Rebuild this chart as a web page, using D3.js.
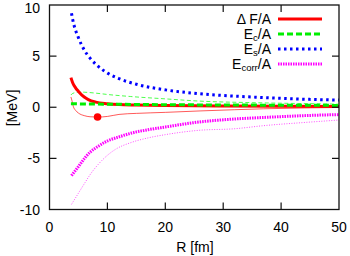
<!DOCTYPE html>
<html><head><meta charset="utf-8">
<script src="https://cdn.jsdelivr.net/npm/d3@7"></script>
<style>body{margin:0;background:#fff}svg{display:block}text{font-family:"Liberation Sans",Arial,sans-serif}</style>
</head><body><svg id="c" width="350" height="256"></svg>
<script>
// ---- data ----
const xTicks = [0,10,20,30,40,50];
const yTicks = [-10,-5,0,5,10];
const seriesNames = ["\u0394 F/A","Ec/A","Es/A","Ecorr/A"];

const rF   = [3.7,4.0,4.5,5.0,6.0,6.7,8.0,10,12,15,20,25,30,40,50];
const dF   = [2.9,2.4,1.9,1.55,1.0,0.75,0.5,0.35,0.27,0.22,0.17,0.14,0.12,0.09,0.07];
const rEc  = [3.7,5,10,20,30,40,50];
const ec   = [0.34,0.33,0.3,0.25,0.22,0.2,0.18];
const rEs  = [3.8,4,5,6,7,8,10,12,15,20,25,30,35,40,45,50];
const es   = [9.2,8.6,6.8,5.6,4.8,4.2,3.35,2.8,2.25,1.7,1.37,1.15,1.0,0.87,0.77,0.7];
const rEcorr = [3.8,5,6.1,7,8.4,10,12,14.2,17,20,25.7,32,37,46,50];
const ecorr  = [-6.68,-5.8,-4.96,-4.4,-3.82,-3.3,-2.9,-2.52,-2.2,-1.93,-1.45,-1.15,-1.0,-0.78,-0.72];

// thin curves
const rF2  = [3.7,3.9,4.1,4.5,5,6,7,8.3,10,12,15,20,26,32,37,44,50];
const dF2  = [1.0,0.6,0.1,-0.3,-0.57,-0.82,-0.93,-0.96,-0.9,-0.7,-0.6,-0.5,-0.36,-0.24,-0.15,-0.07,-0.02];
const rEc2 = [3.7,4,5,6,8,10,14,20,26,35,46,50];
const ec2  = [1.2,1.35,1.48,1.47,1.38,1.25,1.05,0.82,0.6,0.45,0.34,0.3];
const rEcorr2 = [3.8,5,6.1,7,8.4,10,11.3,14.2,17,20,25.7,32,37,45,50];
const ecorr2  = [-9.5,-8.4,-7.4,-6.6,-5.6,-4.7,-4.15,-3.43,-3.0,-2.68,-2.26,-2.1,-1.8,-1.45,-1.25];
const minPoint = [8.3,-0.96];

// ---- drawing ----
const svg = d3.select("#c");
const L=49.5,R=339,T=5,B=209.5;
const x = d3.scaleLinear().domain([0,50]).range([L,R]);
const y = d3.scaleLinear().domain([-10,10]).range([B,T]);
const line = d3.line().x(d=>x(d[0])).y(d=>y(d[1])).curve(d3.curveMonotoneX);
const zip=(a,b)=>a.map((v,i)=>[v,b[i]]);

const g = svg.append("g");
svg.append("defs").append("clipPath").attr("id","pc").append("rect")
  .attr("x",L).attr("y",T).attr("width",R-L).attr("height",B-T);
const plot = g.append("g").attr("clip-path","url(#pc)");

function path(data, color, w, dash, op){
  plot.append("path").attr("d",line(data)).attr("fill","none").attr("stroke",color)
    .attr("stroke-width",w).attr("stroke-dasharray",dash||null).attr("opacity",op||1);
}
// thin
path(zip(rEcorr2,ecorr2),"#ff00ff",1,"1,1.5",0.7);
path(zip(rF2,dF2),"#ff0000",1,null,0.65);
path(zip(rEc2,ec2),"#00ff00",1,"4,2.5",0.7);
// thick
path(zip(rEs,es),"#0000ff",3,"2.5,3.5");
path(zip(rEcorr,ecorr),"#ff00ff",3,"1.5,1");
path(zip(rF,dF),"#ff0000",3);
path(zip(rEc,ec),"#00ee00",3,"6,3");
plot.append("circle").attr("cx",x(minPoint[0])).attr("cy",y(minPoint[1])).attr("r",3.8).attr("fill","#ff0000");

// axes frame
g.append("rect").attr("x",L).attr("y",T).attr("width",R-L).attr("height",B-T)
  .attr("fill","none").attr("stroke","#111").attr("stroke-width",1.3);
const tk=7;
xTicks.forEach(v=>{
  if(v>0&&v<50){
    g.append("line").attr("x1",x(v)).attr("x2",x(v)).attr("y1",B).attr("y2",B-tk).attr("stroke","#111").attr("stroke-width",1.2);
    g.append("line").attr("x1",x(v)).attr("x2",x(v)).attr("y1",T).attr("y2",T+tk).attr("stroke","#111").attr("stroke-width",1.2);
  }
  g.append("text").attr("x",x(v)).attr("y",232).attr("text-anchor","middle").attr("font-size",14).text(d3.format("d")(v));
});
yTicks.forEach(v=>{
  if(v>-10&&v<10){
    g.append("line").attr("x1",L).attr("x2",L+tk).attr("y1",y(v)).attr("y2",y(v)).attr("stroke","#111").attr("stroke-width",1.2);
    g.append("line").attr("x1",R).attr("x2",R-tk).attr("y1",y(v)).attr("y2",y(v)).attr("stroke","#111").attr("stroke-width",1.2);
  }
  g.append("text").attr("x",40).attr("y",Math.max(y(v),7.5)).attr("dy","0.36em").attr("text-anchor","end").attr("font-size",14).text(v);
});
g.append("text").attr("x",195).attr("y",252).attr("text-anchor","middle").attr("font-size",14).text("R [fm]");
g.append("text").attr("transform","translate(17,108) rotate(-90)").attr("text-anchor","middle").attr("font-size",14).text("[MeV]");

// legend
const legY=[19,34,49,64];
const legStyle=[["#ff0000",3,null],["#00ee00",3,"6,3"],["#0000ff",3,"2.5,3.5"],["#ff00ff",3,"1.5,1"]];
const labels=[[seriesNames[0]],["E","c","/A"],["E","s","/A"],["E","corr","/A"]];
labels.forEach((lb,i)=>{
  const t=g.append("text").attr("x",271).attr("y",legY[i]+4.5).attr("text-anchor","end").attr("font-size",14);
  if(i===0){ t.text(lb[0]); }
  else{
    t.append("tspan").text(lb[0]);
    t.append("tspan").attr("font-size",9.5).attr("dy",2.5).text(lb[1]);
    t.append("tspan").attr("dy",-2.5).text(lb[2]);
  }
  g.append("line").attr("x1",278).attr("x2",322).attr("y1",legY[i]).attr("y2",legY[i])
    .attr("stroke",legStyle[i][0]).attr("stroke-width",legStyle[i][1]).attr("stroke-dasharray",legStyle[i][2]);
});
</script></body></html>
